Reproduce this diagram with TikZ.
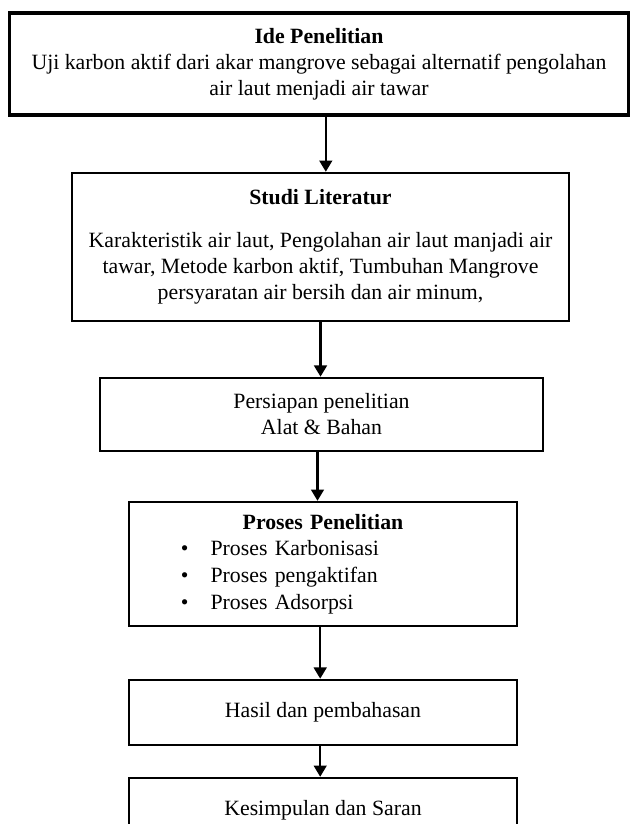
\documentclass[tikz,border=0pt]{standalone}
\usepackage{fontspec}
\setmainfont{Liberation Serif}
\usetikzlibrary{
  arrows.meta,
  positioning,
  calc
}
\tikzset{
  stepbox/.style={
    draw, line width=1.7pt, minimum width=9.7cm, align=center,
    inner sep=2pt, font=\fontsize{15.5pt}{18.5pt}\selectfont
  },
  flow/.style={-{Triangle[length=8pt, width=9pt]}, line width=1.8pt}
}

\begin{document}
\begin{tikzpicture}[x=0.025cm, y=-0.025cm]
  \useasboundingbox (0,0) rectangle (630,824);
  \clip (0,0) rectangle (630,824);
  \node[stepbox, line width=2.2pt, minimum width=15.45cm, minimum height=2.55cm] (ide) at (319,64)
    {\textbf{Ide Penelitian}\\ Uji karbon aktif dari akar mangrove sebagai alternatif pengolahan\\ air laut menjadi air tawar};
  \node[stepbox, minimum width=12.43cm, minimum height=3.7cm] (studi) at (320.5,247)
    {\textbf{Studi Literatur}\\[12pt] Karakteristik air laut, Pengolahan air laut manjadi air\\ tawar, Metode karbon aktif, Tumbuhan Mangrove\\ persyaratan air bersih dan air minum,};
  \node[stepbox, minimum width=11.08cm, minimum height=1.83cm] (persiapan) at (321.5,414.5)
    {Persiapan penelitian\\ Alat \& Bahan};
  \node[stepbox, inner sep=0pt, text width=9.7cm, align=left, minimum height=3.1cm,
        font=\fontsize{15.5pt}{19pt}\selectfont] (proses) at (323,564)
    {\centerline{\textbf{Proses Penelitian}}
     \hspace*{1.3cm}\textbullet\hspace{0.55cm}Proses Karbonisasi\\
     \hspace*{1.3cm}\textbullet\hspace{0.55cm}Proses pengaktifan\\
     \hspace*{1.3cm}\textbullet\hspace{0.55cm}Proses Adsorpsi};
  \node[stepbox, minimum height=1.63cm] (hasil) at (323,712.5) {Hasil dan pembahasan};
  \node[stepbox, minimum height=1.6cm] (simpul) at (323,810) {Kesimpulan dan Saran};
  % alur penelitian
  \draw[flow] ([xshift=0.17cm]ide.south) -- ([xshift=0.17cm]ide.south |- studi.north);
  \draw[flow] (studi.south) -- (studi.south |- persiapan.north);
  \draw[flow] ([xshift=-0.1cm]persiapan.south) -- ([xshift=-0.1cm]persiapan.south |- proses.north);
  \draw[flow] ([xshift=-0.07cm]proses.south) -- ([xshift=-0.07cm]proses.south |- hasil.north);
  \draw[flow] ([xshift=-0.07cm]hasil.south) -- ([xshift=-0.07cm]hasil.south |- simpul.north);
\end{tikzpicture}
\end{document}
